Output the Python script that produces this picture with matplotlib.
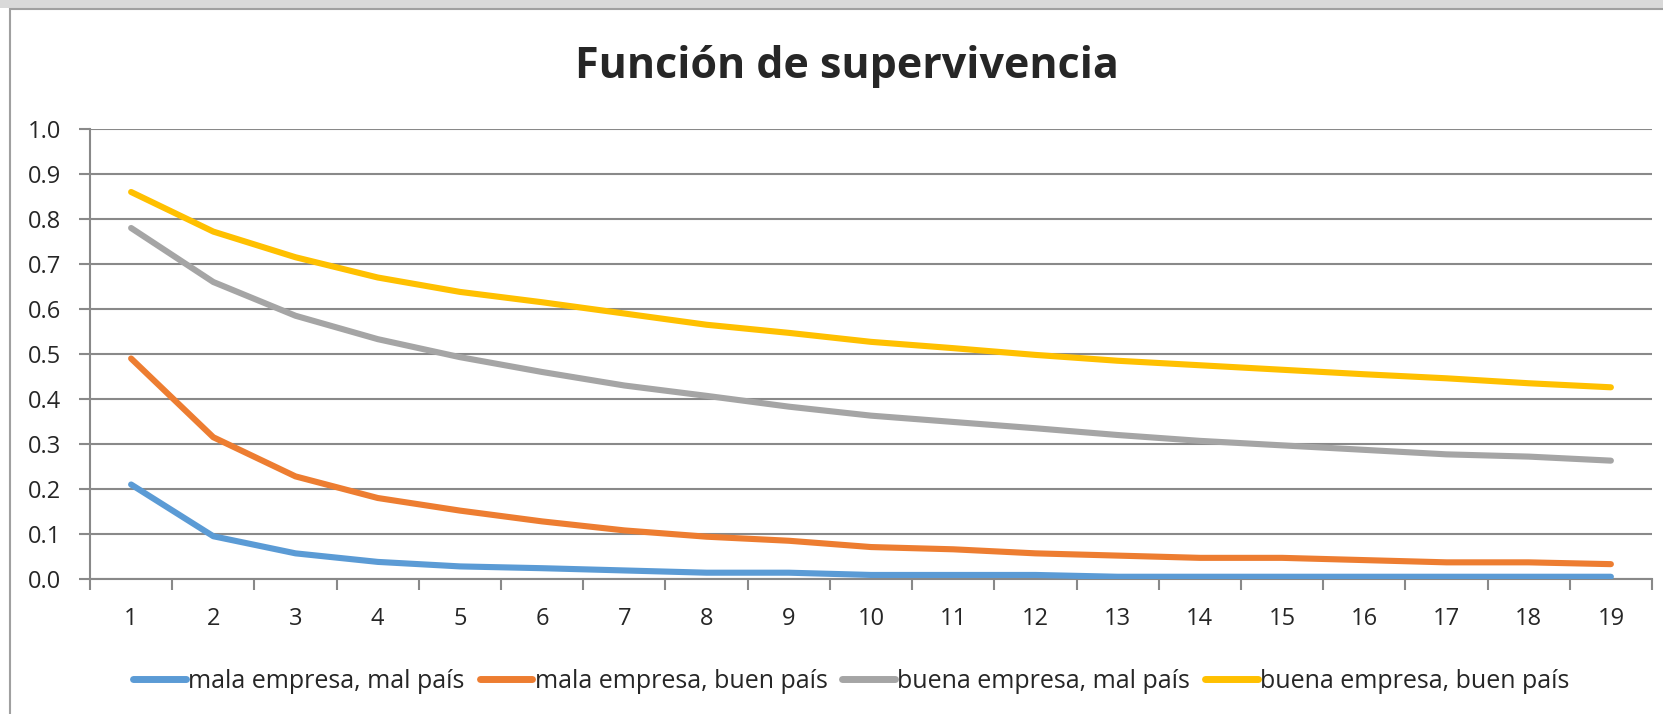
import matplotlib.pyplot as plt
from matplotlib.patches import Rectangle

plt.rcParams['font.family'] = ['Open Sans', 'DejaVu Sans']

periodos = list(range(1, 20))
mala_mal = [0.210, 0.095, 0.057, 0.038, 0.028, 0.024, 0.019, 0.014, 0.014, 0.009,
            0.009, 0.009, 0.005, 0.005, 0.005, 0.005, 0.005, 0.005, 0.005]
mala_buen = [0.490, 0.315, 0.228, 0.180, 0.152, 0.128, 0.108, 0.094, 0.085, 0.071,
             0.066, 0.057, 0.052, 0.047, 0.047, 0.042, 0.037, 0.037, 0.033]
buena_mal = [0.780, 0.660, 0.585, 0.533, 0.493, 0.460, 0.430, 0.407, 0.383, 0.363,
             0.349, 0.335, 0.320, 0.307, 0.297, 0.287, 0.277, 0.272, 0.263]
buena_buen = [0.860, 0.772, 0.715, 0.670, 0.638, 0.615, 0.590, 0.565, 0.547, 0.527,
              0.513, 0.498, 0.485, 0.475, 0.465, 0.455, 0.446, 0.435, 0.426]
etiquetas = ['mala empresa, mal país', 'mala empresa, buen país',
             'buena empresa, mal país', 'buena empresa, buen país']
colores = ['#5b9bd5', '#ed7d31', '#a5a5a5', '#ffc000']
yticks = [0.0, 0.1, 0.2, 0.3, 0.4, 0.5, 0.6, 0.7, 0.8, 0.9, 1.0]

W, H = 1663, 714
fig = plt.figure(figsize=(W / 100, H / 100), dpi=100)
# grey band at top and chart frame
fig.patches.append(Rectangle((0, 1 - 8 / H), 1, 8 / H, transform=fig.transFigure,
                             facecolor='#d9d9d9', edgecolor='none', zorder=-2))
fig.patches.append(Rectangle((10 / W, -0.01), 1.0, 1 - 9 / H + 0.01, transform=fig.transFigure,
                             facecolor='white', edgecolor='#a0a0a0', linewidth=1.5, zorder=-1))

ax = fig.add_axes([90 / W, 1 - 579 / H, (1652 - 90) / W, (579 - 129) / H])
ax.set_facecolor('none')
series = [mala_mal, mala_buen, buena_mal, buena_buen]
for vals, lab, col in zip(series, etiquetas, colores):
    ax.plot(periodos, vals, color=col, linewidth=4.4, solid_capstyle='round',
            solid_joinstyle='round', label=lab, zorder=3)

ax.set_xlim(0.5, 19.5)
ax.set_ylim(0, 1.0)
ax.set_yticks(yticks)
ax.set_yticklabels(['%.1f' % v for v in yticks])
ax.set_xticks(periodos)
ax.set_xticks([p + 0.5 for p in [0] + periodos], minor=True)
ax.grid(axis='y', color='#898989', linewidth=1.5, zorder=1)
for s in ['top', 'right']:
    ax.spines[s].set_visible(False)
for s in ['left', 'bottom']:
    ax.spines[s].set_color('#898989')
    ax.spines[s].set_linewidth(1.5)
ax.tick_params(axis='y', which='major', length=8, width=1.5, color='#898989',
               labelsize=17, labelcolor='#262626', pad=13)
ax.tick_params(axis='x', which='major', length=0, labelsize=17, labelcolor='#262626', pad=20)
ax.tick_params(axis='x', which='minor', length=8, width=1.5, color='#898989')

fig.text(0.509, 1 - 66 / H, 'Función de supervivencia', ha='center', va='center',
         fontsize=31, fontweight='bold', color='#262626')

leg = fig.legend(loc='center', bbox_to_anchor=(0.512, 1 - 681 / H), ncol=4, frameon=False,
                 fontsize=18, handlelength=2.1, handletextpad=0.1, columnspacing=0.6)
for t in leg.get_texts():
    t.set_color('#262626')
for h in leg.get_lines():
    h.set_linewidth(5)

fig.savefig('out.png', dpi=100)
